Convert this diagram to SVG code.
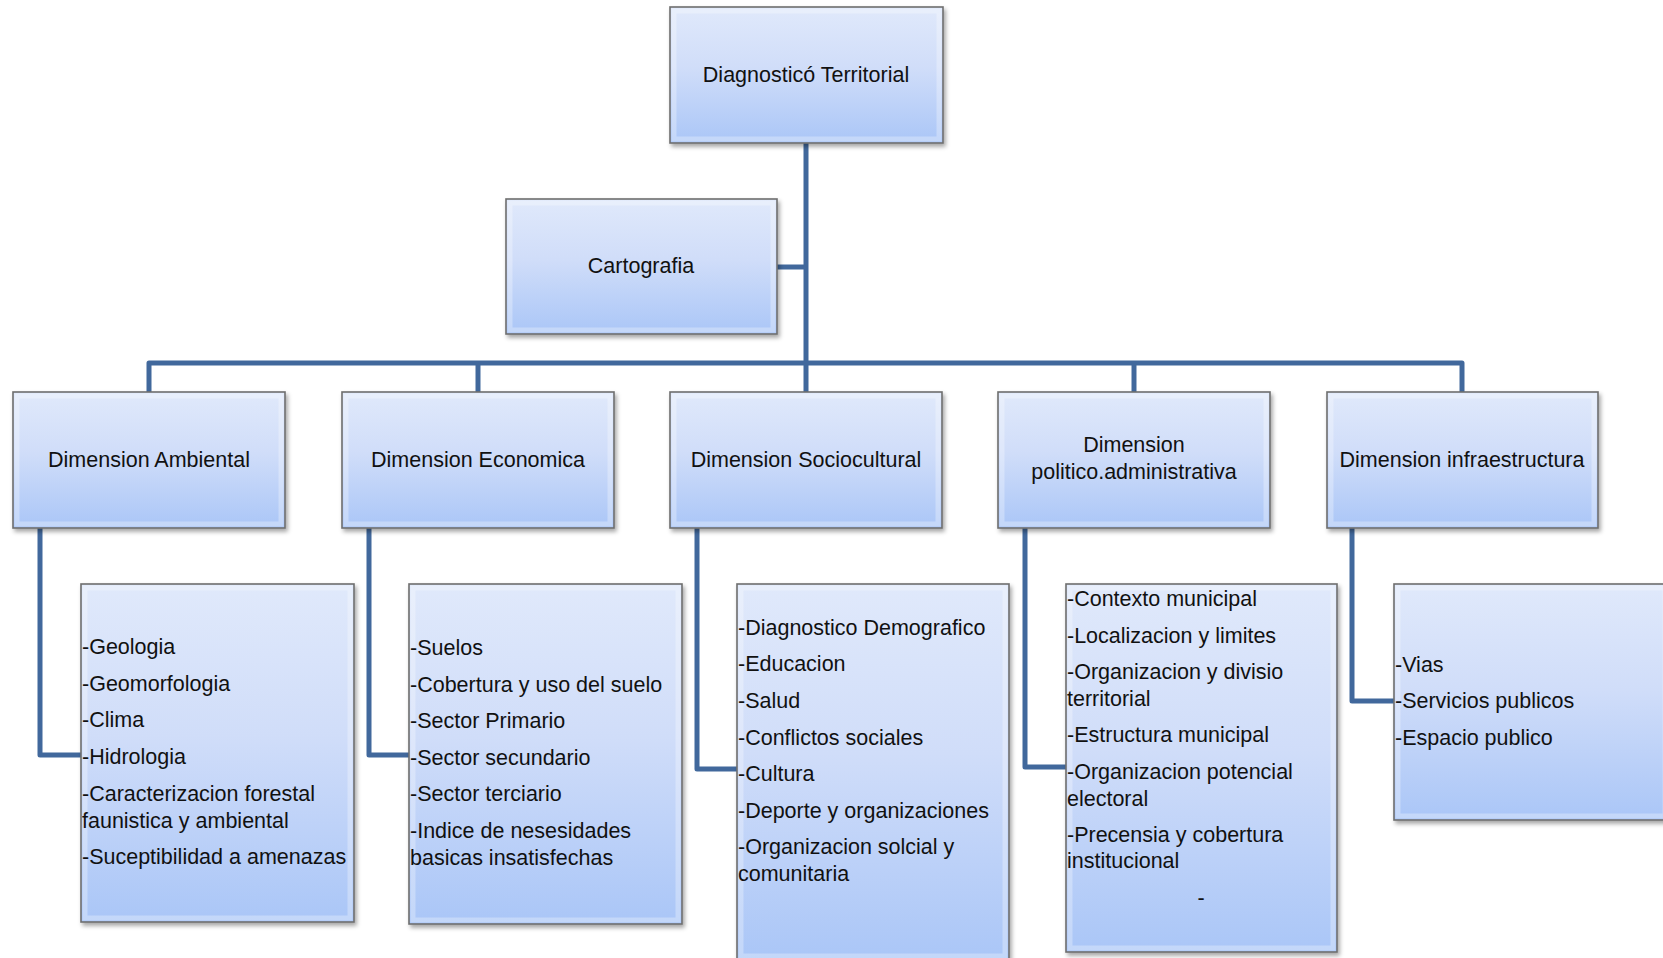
<svg xmlns="http://www.w3.org/2000/svg" width="1663" height="958" viewBox="0 0 1663 958">
<defs>
<linearGradient id="g" x1="0" y1="0" x2="0" y2="1">
<stop offset="0" stop-color="#e0e9fb"/>
<stop offset="0.45" stop-color="#d0ddf9"/>
<stop offset="1" stop-color="#aac6f7"/>
</linearGradient>
<filter id="sh" x="-5%" y="-5%" width="115%" height="115%">
<feDropShadow dx="2" dy="3" stdDeviation="2" flood-color="#000" flood-opacity="0.35"/>
</filter>
<style>
.box{fill:url(#g);stroke:#6e6e6e;stroke-width:1.6;filter:url(#sh)}
.in{fill:none;stroke:#ffffff;stroke-opacity:0.3;stroke-width:5}
.t{font-family:"Liberation Sans",Arial,sans-serif;font-size:21.5px;fill:#111}
.c{text-anchor:middle}
.ln{fill:none;stroke:#41689c;stroke-width:5;stroke-linejoin:round}
</style>
</defs>
<rect width="1663" height="958" fill="#fff"/>
<g id="connectors">
<path class="ln" d="M806 143 V392"/>
<path class="ln" d="M777 267 H806"/>
<path class="ln" d="M149 392 V363 H1462 V392"/>
<path class="ln" d="M478 363 V392"/>
<path class="ln" d="M1134 363 V392"/>
<path class="ln" d="M40 528 V755 H81"/>
<path class="ln" d="M369 528 V755 H409"/>
<path class="ln" d="M697 528 V769 H737"/>
<path class="ln" d="M1025 528 V767 H1066"/>
<path class="ln" d="M1352 528 V701 H1394"/>
</g>
<g id="n-root">
<rect class="box" x="670" y="7" width="273" height="136"/>
<rect class="in" x="674" y="11" width="265" height="128"/>
<text class="t c" x="806" y="82">Diagnosticó Territorial</text>
</g>
<g id="n-carto">
<rect class="box" x="506" y="199" width="271" height="135"/>
<rect class="in" x="510" y="203" width="263" height="127"/>
<text class="t c" x="641" y="273">Cartografia</text>
</g>
<g id="n-amb">
<rect class="box" x="13" y="392" width="272" height="136"/>
<rect class="in" x="17" y="396" width="264" height="128"/>
<text class="t c" x="149" y="467">Dimension Ambiental</text>
</g>
<g id="n-eco">
<rect class="box" x="342" y="392" width="272" height="136"/>
<rect class="in" x="346" y="396" width="264" height="128"/>
<text class="t c" x="478" y="467">Dimension Economica</text>
</g>
<g id="n-soc">
<rect class="box" x="670" y="392" width="272" height="136"/>
<rect class="in" x="674" y="396" width="264" height="128"/>
<text class="t c" x="806" y="467">Dimension Sociocultural</text>
</g>
<g id="n-pol">
<rect class="box" x="998" y="392" width="272" height="136"/>
<rect class="in" x="1002" y="396" width="264" height="128"/>
<text class="t c" x="1134" y="452">Dimension</text>
<text class="t c" x="1134" y="479">politico.administrativa</text>
</g>
<g id="n-inf">
<rect class="box" x="1327" y="392" width="271" height="136"/>
<rect class="in" x="1331" y="396" width="263" height="128"/>
<text class="t c" x="1462" y="467">Dimension infraestructura</text>
</g>
<g id="l-amb">
<rect class="box" x="81" y="584" width="273" height="338"/>
<rect class="in" x="85" y="588" width="265" height="330"/>
<text class="t" x="82" y="654">-Geologia</text>
<text class="t" x="82" y="691">-Geomorfologia</text>
<text class="t" x="82" y="727">-Clima</text>
<text class="t" x="82" y="764">-Hidrologia</text>
<text class="t" x="82" y="801">-Caracterizacion forestal</text>
<text class="t" x="82" y="828">faunistica y ambiental</text>
<text class="t" x="82" y="864">-Suceptibilidad a amenazas</text>
</g>
<g id="l-eco">
<rect class="box" x="409" y="584" width="273" height="340"/>
<rect class="in" x="413" y="588" width="265" height="332"/>
<text class="t" x="410" y="655">-Suelos</text>
<text class="t" x="410" y="692">-Cobertura y uso del suelo</text>
<text class="t" x="410" y="728">-Sector Primario</text>
<text class="t" x="410" y="765">-Sector secundario</text>
<text class="t" x="410" y="801">-Sector terciario</text>
<text class="t" x="410" y="838">-Indice de nesesidades</text>
<text class="t" x="410" y="865">basicas insatisfechas</text>
</g>
<g id="l-soc">
<rect class="box" x="737" y="584" width="272" height="376"/>
<rect class="in" x="741" y="588" width="264" height="368"/>
<text class="t" x="738" y="635">-Diagnostico Demografico</text>
<text class="t" x="738" y="671">-Educacion</text>
<text class="t" x="738" y="708">-Salud</text>
<text class="t" x="738" y="745">-Conflictos sociales</text>
<text class="t" x="738" y="781">-Cultura</text>
<text class="t" x="738" y="818">-Deporte y organizaciones</text>
<text class="t" x="738" y="854">-Organizacion solcial y</text>
<text class="t" x="738" y="881">comunitaria</text>
</g>
<g id="l-pol">
<rect class="box" x="1066" y="584" width="271" height="368"/>
<rect class="in" x="1070" y="588" width="263" height="360"/>
<text class="t" x="1067" y="606">-Contexto municipal</text>
<text class="t" x="1067" y="643">-Localizacion y limites</text>
<text class="t" x="1067" y="679">-Organizacion y divisio</text>
<text class="t" x="1067" y="706">territorial</text>
<text class="t" x="1067" y="742">-Estructura municipal</text>
<text class="t" x="1067" y="779">-Organizacion potencial</text>
<text class="t" x="1067" y="806">electoral</text>
<text class="t" x="1067" y="842">-Precensia y cobertura</text>
<text class="t" x="1067" y="868">institucional</text>
<text class="t c" x="1201" y="905">-</text>
</g>
<g id="l-inf">
<rect class="box" x="1394" y="584" width="275" height="236"/>
<rect class="in" x="1398" y="588" width="267" height="228"/>
<text class="t" x="1395" y="672">-Vias</text>
<text class="t" x="1395" y="708">-Servicios publicos</text>
<text class="t" x="1395" y="745">-Espacio publico</text>
</g>
</svg>
